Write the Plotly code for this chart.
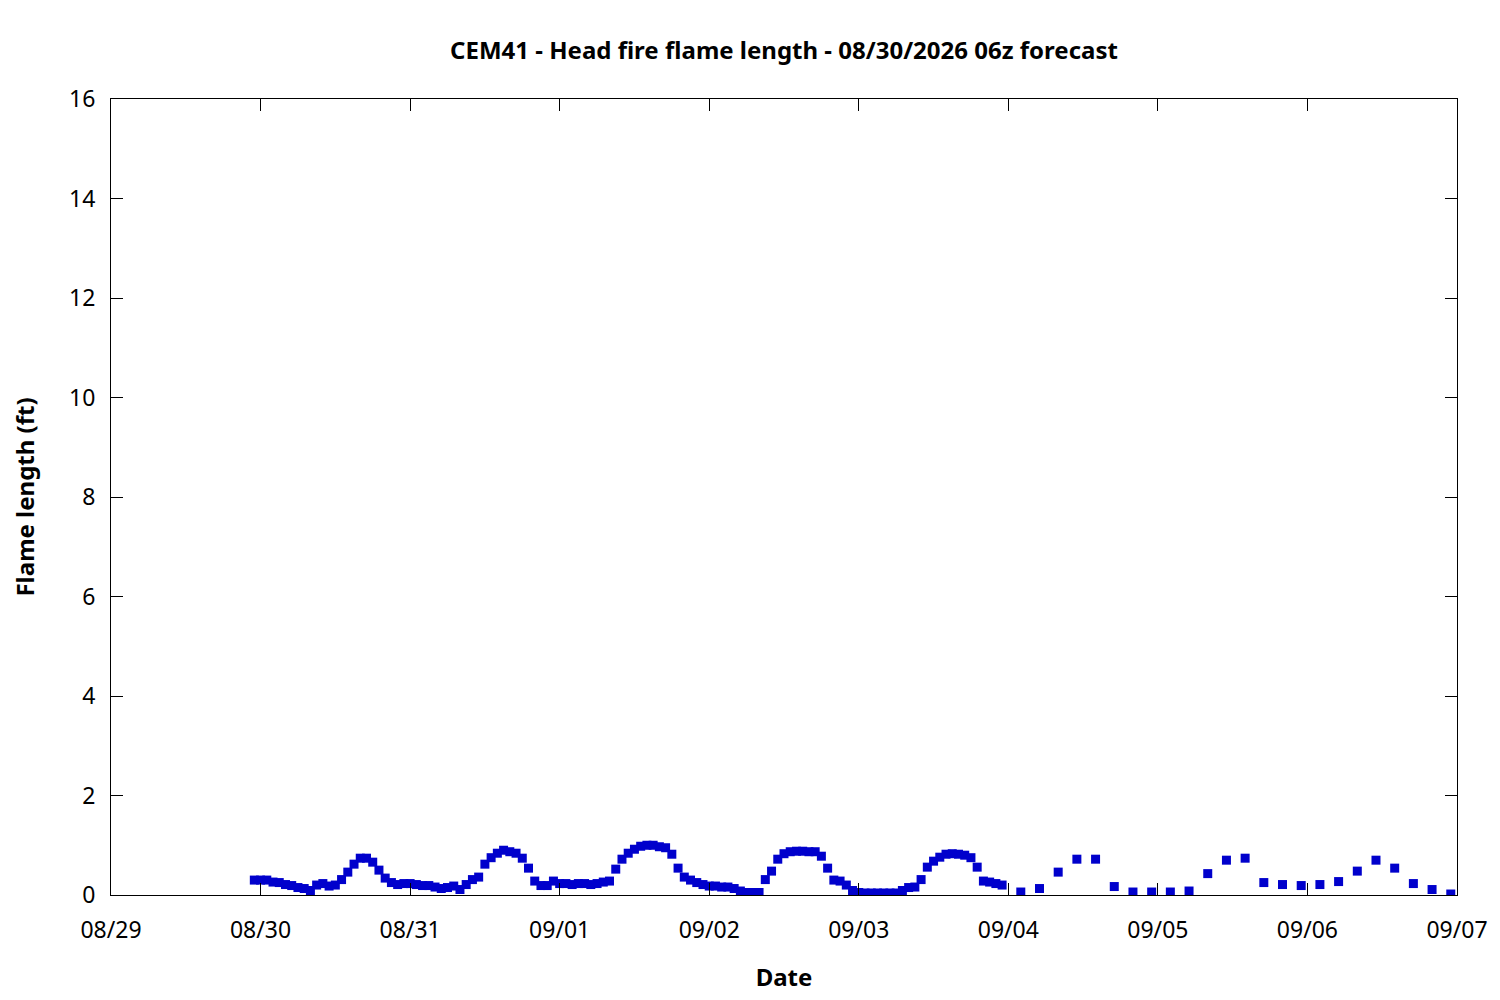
import pandas as pd
import plotly.graph_objects as go

# hourly forecast, starts 08/29 23:00
hourly_start = "2026-08-29 23:00"
hourly_flame = [
    0.30, 0.30, 0.30, 0.26, 0.25, 0.21, 0.19, 0.15, 0.13, 0.09,
    0.20, 0.23, 0.18, 0.20, 0.31, 0.46, 0.62, 0.74, 0.74, 0.66,
    0.50, 0.34, 0.25, 0.21, 0.23, 0.23, 0.21, 0.19, 0.19, 0.16,
    0.13, 0.15, 0.18, 0.11, 0.21, 0.31, 0.36, 0.62, 0.75, 0.84,
    0.90, 0.87, 0.84, 0.74, 0.54, 0.28, 0.19, 0.19, 0.28, 0.23,
    0.23, 0.21, 0.23, 0.23, 0.21, 0.23, 0.26, 0.28, 0.52, 0.72,
    0.84, 0.92, 0.98, 1.00, 1.00, 0.97, 0.95, 0.82, 0.54, 0.36,
    0.30, 0.25, 0.21, 0.18, 0.18, 0.16, 0.16, 0.13, 0.08, 0.05,
    0.05, 0.05, 0.31, 0.48, 0.72, 0.83, 0.87, 0.88, 0.88, 0.87,
    0.87, 0.78, 0.54, 0.30, 0.28, 0.20, 0.09, 0.05, 0.04, 0.04,
    0.04, 0.04, 0.04, 0.04, 0.09, 0.15, 0.16, 0.31, 0.56, 0.68,
    0.76, 0.82, 0.83, 0.82, 0.80, 0.75, 0.56, 0.28, 0.26, 0.23,
    0.20,
]

# 3-hourly forecast after that, starts 09/04 02:00
threehr_start = "2026-09-04 02:00"
threehr_flame = [
    0.06, 0.13, 0.46, 0.72, 0.72, 0.17, 0.06, 0.06, 0.06, 0.08,
    0.43, 0.70, 0.74, 0.25, 0.21, 0.19, 0.21, 0.27, 0.48, 0.70,
    0.54, 0.23, 0.11, 0.02,
]

t1 = pd.date_range(hourly_start, periods=len(hourly_flame), freq="1h")
t2 = pd.date_range(threehr_start, periods=len(threehr_flame), freq="3h")
times = list(t1) + list(t2)
flame = hourly_flame + threehr_flame

FONT = "Noto Sans"
title_font = dict(family=FONT, size=24, color="black", weight="bold")

fig = go.Figure()
fig.add_trace(go.Scatter(
    x=times, y=flame, mode="markers",
    marker=dict(symbol="square", size=9, color="#0000CC", line=dict(width=0)),
    showlegend=False,
))

axis_common = dict(
    showline=True, linecolor="black", linewidth=1, mirror="ticks",
    ticks="inside", ticklen=12, tickcolor="black", tickwidth=1,
    showgrid=False, zeroline=False, automargin=False,
    tickfont=dict(family=FONT, size=23, color="black"),
)

fig.update_layout(
    width=1500, height=1000,
    paper_bgcolor="white", plot_bgcolor="white",
    margin=dict(l=103, r=51, t=91, b=113),
    title=dict(
        text="CEM41 - Head fire flame length - 08/30/2026 06z forecast",
        x=0.5, xref="paper", xanchor="center", y=0.957, yanchor="middle",
        font=title_font,
    ),
    xaxis=dict(
        type="date", range=["2026-08-29", "2026-09-07"],
        dtick=86400000, tick0="2026-08-29", tickformat="%m/%d",
        ticklabelstandoff=14,
        title=dict(text="Date", standoff=25, font=title_font),
        **axis_common,
    ),
    yaxis=dict(
        range=[0, 16], dtick=2, ticklabelstandoff=10,
        title=dict(text="Flame length (ft)", standoff=33, font=title_font),
        **axis_common,
    ),
)

fig.write_html("out.html")
